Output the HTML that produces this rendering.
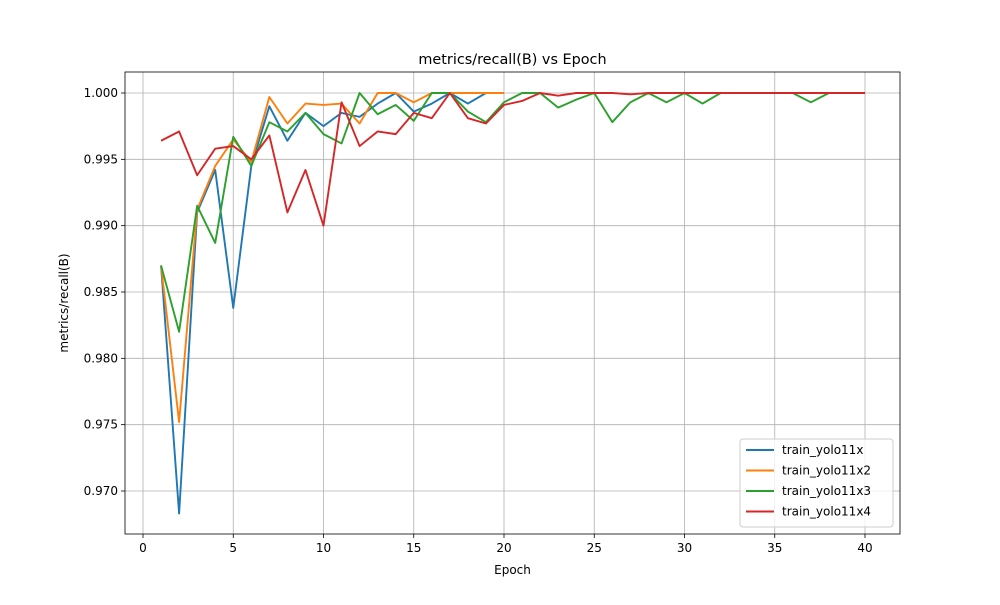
<!DOCTYPE html>
<html><head><meta charset="utf-8"><style>body{margin:0;background:#fff}svg text{font-family:"DejaVu Sans","Liberation Sans",sans-serif;fill:#000}</style></head>
<body>
<svg id="c" width="1000" height="600"></svg>
<script>
const epochs40 = Array.from({length:40},(_,i)=>i+1);
const seriesNames = ["train_yolo11x","train_yolo11x2","train_yolo11x3","train_yolo11x4"];
const seriesColors = ["#1f77b4","#ff7f0e","#2ca02c","#d62728"];
const blue = [0.987,0.9683,0.991,0.9942,0.9838,0.9945,0.9990,0.9964,0.9985,0.9975,0.9985,0.9982,0.9992,1.0,0.9986,0.9992,1.0,0.9992,1.0,1.0];
const orange = [0.987,0.9752,0.9912,0.9945,0.9965,0.9948,0.9997,0.9977,0.9992,0.9991,0.9992,0.9977,1.0,1.0,0.9993,1.0,1.0,1.0,1.0,1.0];
const green = [0.987,0.982,0.9915,0.9887,0.9967,0.9945,0.9978,0.9971,0.9985,0.9969,0.9962,1.0,0.9984,0.9991,0.9979,1.0,1.0,0.9986,0.9978,0.9993,1.0,1.0,0.9989,0.9995,1.0,0.9978,0.9993,1.0,0.9993,1.0,0.9992,1.0,1.0,1.0,1.0,1.0,0.9993,1.0,1.0,1.0];
const red = [0.9964,0.9971,0.9938,0.9958,0.9960,0.9950,0.9968,0.9910,0.9942,0.9900,0.9993,0.9960,0.9971,0.9969,0.9985,0.9981,1.0,0.9981,0.9977,0.9991,0.9994,1.0,0.9998,1.0,1.0,1.0,0.9999,1.0,1.0,1.0,1.0,1.0,1.0,1.0,1.0,1.0,1.0,1.0,1.0,1.0];
const xTicks = [0,5,10,15,20,25,30,35,40];
const yTicks = [0.970,0.975,0.980,0.985,0.990,0.995,1.000];
const L=125,R=900,T=72,B=534;
const xs=v=>143+(v-0)*(865-143)/40;
const ys=v=>93+(1-v)*(491-93)/0.03;
const svg=document.getElementById('c');const NS='http://www.w3.org/2000/svg';
function mk(t,a,p){const e=document.createElementNS(NS,t);for(const k in a)e.setAttribute(k,a[k]);(p||svg).appendChild(e);return e;}
xTicks.forEach(t=>{const g=mk('g',{});


mk('line',{x1:xs(t),x2:xs(t),y1:T,y2:B,stroke:'#b0b0b0','stroke-width':0.8},g);
mk('line',{x1:xs(t),x2:xs(t),y1:B,y2:B+4,stroke:'#000','stroke-width':0.8},g);
const tx=mk('text',{x:xs(t),y:B+18,'text-anchor':'middle','font-size':12},g);tx.textContent=t;});
yTicks.forEach(t=>{const g=mk('g',{});


mk('line',{x1:L,x2:R,y1:ys(t),y2:ys(t),stroke:'#b0b0b0','stroke-width':0.8},g);
mk('line',{x1:L-4,x2:L,y1:ys(t),y2:ys(t),stroke:'#000','stroke-width':0.8},g);
const tx=mk('text',{x:L-7,y:ys(t)+4,'text-anchor':'end','font-size':12},g);tx.textContent=t.toFixed(3);});
const data=[blue,orange,green,red];
data.forEach((d,i)=>{const p=mk('polyline',{points:d.map((v,j)=>xs(epochs40[j])+','+ys(v)).join(' '),fill:'none',stroke:seriesColors[i],'stroke-width':1.9,'stroke-linejoin':'round'});

});
const fr=mk('rect',{x:L,y:T,width:R-L,height:B-T,fill:'none',stroke:'#000','stroke-width':0.8});


const ti=mk('text',{x:(L+R)/2,y:64,'text-anchor':'middle','font-size':14.4});ti.textContent='metrics/recall(B) vs Epoch';


const xl=mk('text',{x:(L+R)/2,y:574,'text-anchor':'middle','font-size':12});xl.textContent='Epoch';


const yl=mk('text',{x:0,y:0,'text-anchor':'middle','font-size':12,transform:'translate(68,303) rotate(-90)'});yl.textContent='metrics/recall(B)';


const lg=mk('g',{});


mk('rect',{x:740,y:439,width:153,height:88,rx:3,fill:'#fff','fill-opacity':0.8,stroke:'#ccc'},lg);
seriesNames.forEach((n,i)=>{const g=mk('g',{},lg);


const y=450+i*20.5;
mk('line',{x1:746,x2:774,y1:y,y2:y,stroke:seriesColors[i],'stroke-width':1.9},g);
const t=mk('text',{x:782,y:y+4,'font-size':12},g);t.textContent=n;});
</script>
</body></html>
